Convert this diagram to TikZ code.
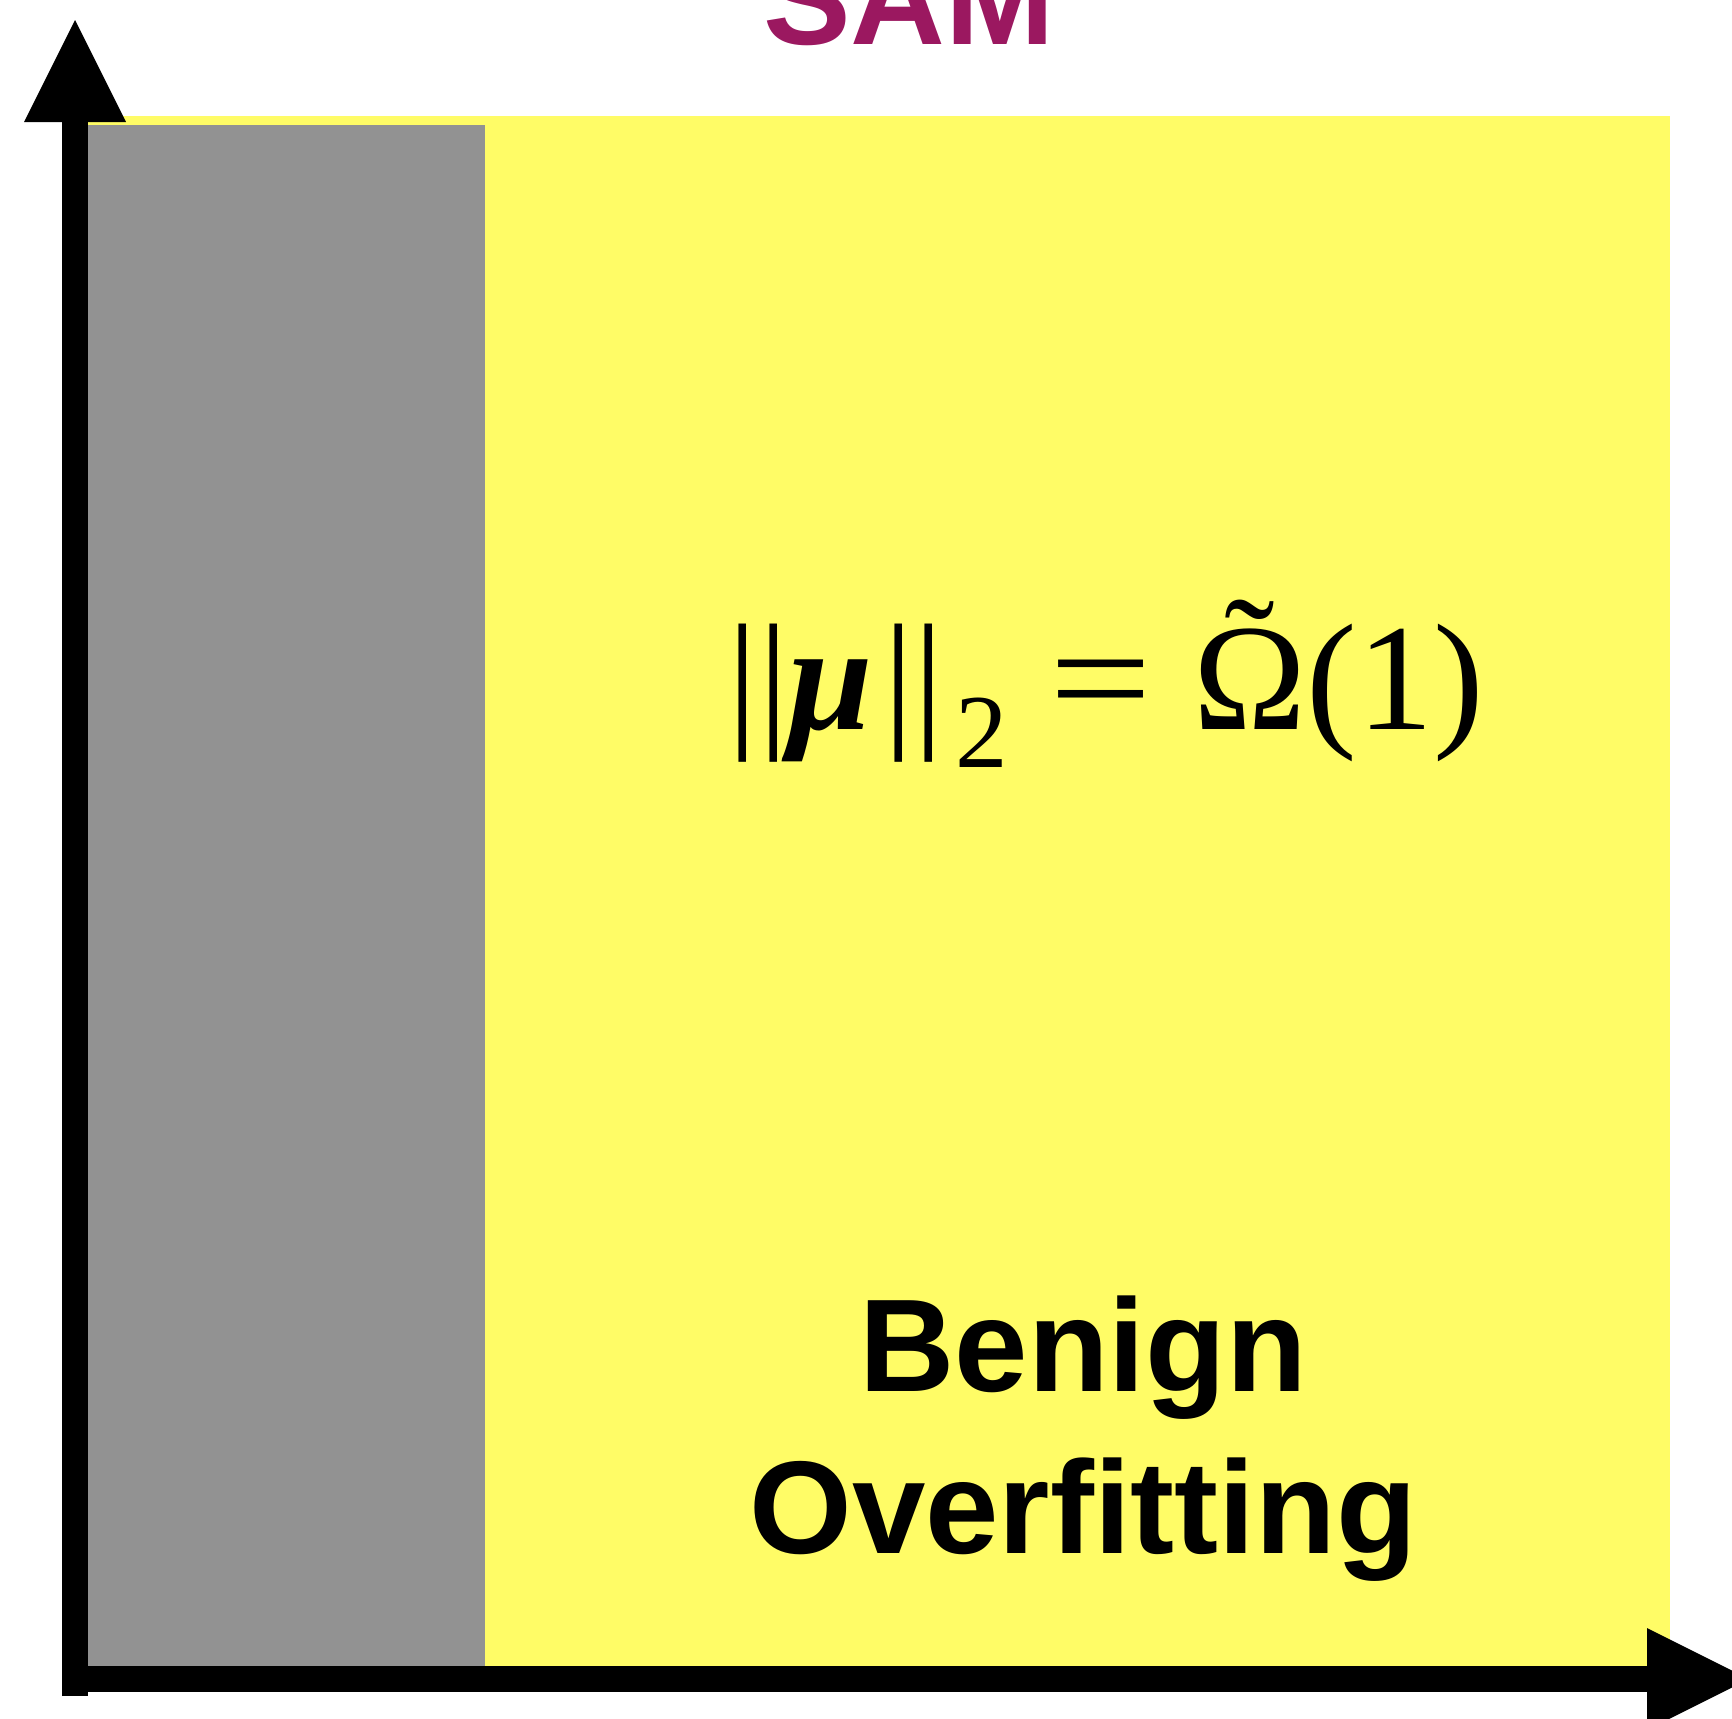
\documentclass[tikz,border=0pt]{standalone}
\usepackage{fontspec}
\usetikzlibrary{arrows.meta}
\newfontfamily\serifform{Liberation Serif}
\newfontfamily\sansbold{Liberation Sans}[BoldFont={Liberation Sans Bold}]
\definecolor{regionyellow}{RGB}{255,252,102}
\definecolor{regiongray}{RGB}{146,146,146}
\definecolor{titlemagenta}{RGB}{155,24,96}
\newsavebox{\omegabox}
\newcommand{\tildeomega}{\sbox{\omegabox}{Ω}\rlap{\hbox to \wd\omegabox{\hss\raisebox{8pt}{˜}\hss}}\usebox{\omegabox}}
\tikzset{
  axisline/.style={line width=7.8pt, black, -{Triangle[length=30.6pt,width=30.6pt,line width=0pt]}},
  bigbold/.style={font=\sansbold\bfseries\fontsize{39.6}{48.6}\selectfont, align=center, inner sep=0pt},
  titletext/.style={font=\sansbold\bfseries\fontsize{39.4}{46}\selectfont, text=titlemagenta, inner sep=0pt},
  formula/.style={font=\serifform\fontsize{45.6}{50}\selectfont, inner sep=0pt}
}
\begin{document}
\begin{tikzpicture}[x=0.3pt,y=-0.3pt]
\useasboundingbox (0,0) rectangle (1732,1718);
% regions
\fill[regionyellow] (75,116) rectangle (1670,1672);
\fill[regiongray] (88,125) rectangle (485,1672);
% texts
\node[titletext, anchor=base] (title) at (909,44) {SAM};
\node[formula, anchor=base west] (norm) at (727,729)
  {||\textbf{\textit{μ}}\kern3pt||\kern3.6pt\raisebox{-11.4pt}{\fontsize{31.5}{34}\selectfont 2}\kern12.4pt{\scalebox{1.2}[1]{=}}\kern12.3pt\tildeomega(1)};
\node[bigbold, anchor=center] (benign) at (1083,1439) {Benign\\Overfitting};
% axes
\coordinate (ybottom) at (75,1696);
\coordinate (ytip) at (75,20);
\coordinate (xleft) at (62,1679);
\coordinate (xtip) at (1749,1679);
\draw[axisline] (ybottom) -- (ytip);
\draw[axisline] (xleft) -- (xtip);
\end{tikzpicture}
\end{document}
